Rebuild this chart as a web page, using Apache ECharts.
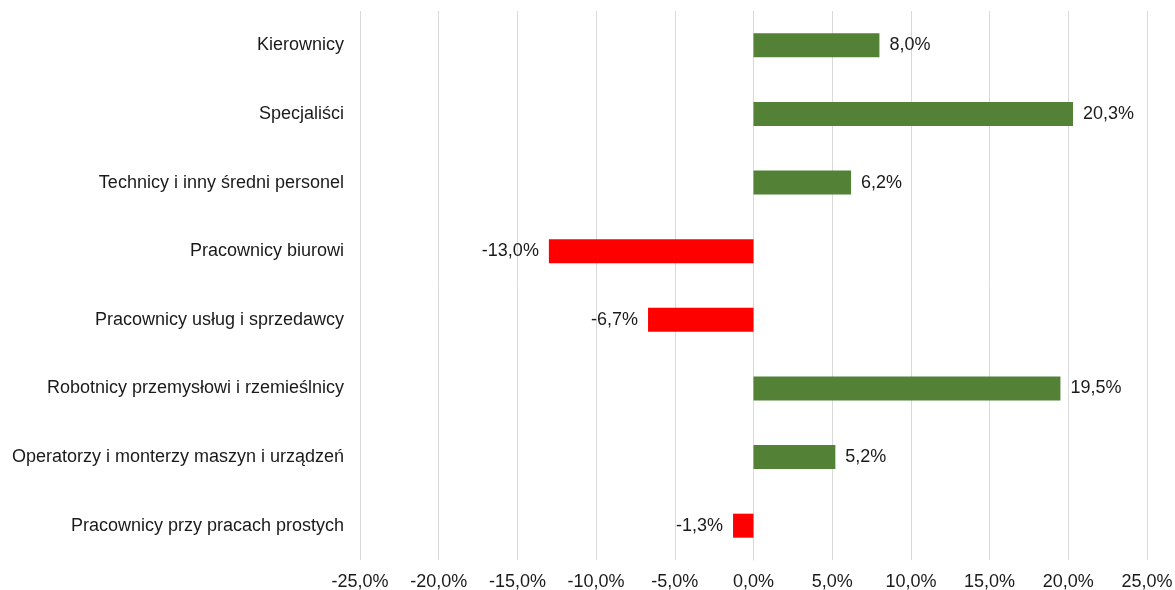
<!DOCTYPE html>
<html>
<head>
<meta charset="utf-8">
<script src="https://cdn.jsdelivr.net/npm/echarts@6/dist/echarts.min.js"></script>
<style>
    html, body { margin: 0; padding: 0; background: #fff; }
    #chartMain { width: 1175px; height: 590px; }
</style>
</head>
<body>
<div id="chartMain"></div>
<script>
    // kategorie zawodów i zmiana w %
    var categories = [
        'Kierownicy',
        'Specjaliści',
        'Technicy i inny średni personel',
        'Pracownicy biurowi',
        'Pracownicy usług i sprzedawcy',
        'Robotnicy przemysłowi i rzemieślnicy',
        'Operatorzy i monterzy maszyn i urządzeń',
        'Pracownicy przy pracach prostych'
    ];
    var values = [8.0, 20.3, 6.2, -13.0, -6.7, 19.5, 5.2, -1.3];

    var POS = '#538135', NEG = '#ff0000';
    var fmt = function (v) { return v.toFixed(1).replace('.', ',') + '%'; };

    var myChart = echarts.init(document.getElementById('chartMain'));
    myChart.setOption({
        animation: false,
        textStyle: { fontFamily: 'Liberation Sans, Arial, sans-serif' },
        grid: { left: 360, right: 28, top: 11, bottom: 30, containLabel: false, outerBoundsMode: 'none' },
        xAxis: {
            type: 'value',
            min: -25, max: 25, interval: 5,
            axisLine: { show: false },
            axisTick: { show: false },
            splitLine: { lineStyle: { color: '#d9d9d9', width: 1 } },
            axisLabel: { formatter: fmt, color: '#1a1a1a', fontSize: 18, margin: 13 }
        },
        yAxis: {
            type: 'category',
            inverse: true,
            data: categories,
            axisLine: { show: true, lineStyle: { color: '#d9d9d9' } },
            axisTick: { show: false },
            axisLabel: { color: '#1a1a1a', fontSize: 18, margin: 16 }
        },
        series: [{
            type: 'bar',
            barWidth: 24,
            data: values.map(function (v) {
                return {
                    value: v,
                    itemStyle: { color: v < 0 ? NEG : POS },
                    label: { position: v < 0 ? 'left' : 'right' }
                };
            }),
            label: {
                show: true,
                distance: 10,
                color: '#1a1a1a',
                fontSize: 18,
                formatter: function (p) { return fmt(p.value); }
            }
        }]
    });
</script>
</body>
</html>
